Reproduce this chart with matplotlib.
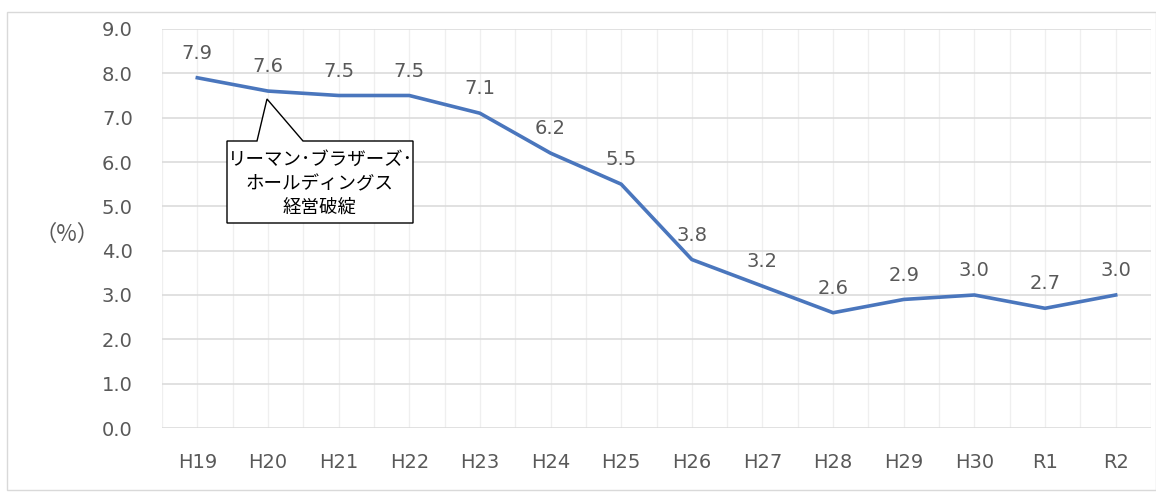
import matplotlib
matplotlib.use("Agg")
import matplotlib.pyplot as plt
from matplotlib.patches import Polygon, Rectangle
from matplotlib.ticker import MultipleLocator

years = ["H19", "H20", "H21", "H22", "H23", "H24", "H25",
         "H26", "H27", "H28", "H29", "H30", "R1", "R2"]
rates = [7.9, 7.6, 7.5, 7.5, 7.1, 6.2, 5.5, 3.8, 3.2, 2.6, 2.9, 3.0, 2.7, 3.0]
y_ticks = [0.0, 1.0, 2.0, 3.0, 4.0, 5.0, 6.0, 7.0, 8.0, 9.0]
unit_label = "（%）"
callout_lines = ["リーマン･ブラザーズ･", "ホールディングス", "経営破綻"]

W, H = 1156, 492
text_color = "#595959"
line_color = "#4a76bd"
num_font = ["DejaVu Sans"]
jp_font = ["Noto Sans CJK JP", "DejaVu Sans"]
num_size = 14

fig = plt.figure(figsize=(W / 100, H / 100), dpi=100)

def px(x, y):
    return (x / W, 1 - y / H)

# chart frame
fig.patches.append(Rectangle(px(7, 490), (1156 - 7) / W, (490 - 12) / H,
                             transform=fig.transFigure, fill=False,
                             edgecolor="#d9d9d9", linewidth=1.0))

left, right, top, bottom = 162, 1151, 29, 428
ax = fig.add_axes([left / W, 1 - bottom / H, (right - left) / W, (bottom - top) / H])

x = list(range(len(years)))
ax.plot(x, rates, color=line_color, linewidth=2.6, solid_joinstyle="round", zorder=3)
for xi, v in zip(x, rates):
    ax.annotate(f"{v:.1f}", (xi, v), xytext=(0, 17.5), textcoords="offset points",
                ha="center", va="center", fontsize=num_size, color=text_color,
                family=num_font)

ax.set_xlim(-0.5, len(years) - 0.5)
ax.set_ylim(0, 9)
ax.set_yticks(y_ticks)
ax.set_yticklabels([f"{t:.1f}" for t in y_ticks], family=num_font,
                   fontsize=num_size, color=text_color)
ax.set_xticks(x)
ax.set_xticklabels(years, family=num_font, fontsize=num_size, color=text_color)
ax.xaxis.set_minor_locator(MultipleLocator(0.5))
ax.tick_params(axis="both", length=0, which="both")
ax.tick_params(axis="y", pad=21)
ax.tick_params(axis="x", pad=18)

ax.grid(axis="y", which="major", color="#d9d9d9", linewidth=1.1)
ax.grid(axis="x", which="both", color="#efefef", linewidth=0.9)
ax.set_axisbelow(True)
for s in ax.spines.values():
    s.set_visible(False)

fig.text(*px(67, 234), unit_label, ha="center", va="center", fontsize=16,
         color=text_color, family=jp_font)

# callout box with pointer
pts = [(227, 223), (227, 141), (257, 141), (267, 99), (303, 141),
       (413, 141), (413, 223)]
fig.patches.append(Polygon([px(a, b) for a, b in pts], closed=True,
                           transform=fig.transFigure, facecolor="white",
                           edgecolor="black", linewidth=1.0, zorder=5))
for i, t in enumerate(callout_lines):
    fig.text(*px(320, 160 + 24 * i), t, ha="center", va="center", fontsize=13.3,
             color="black", family=jp_font, zorder=6)

fig.savefig("out.png", dpi=100, facecolor="white")
